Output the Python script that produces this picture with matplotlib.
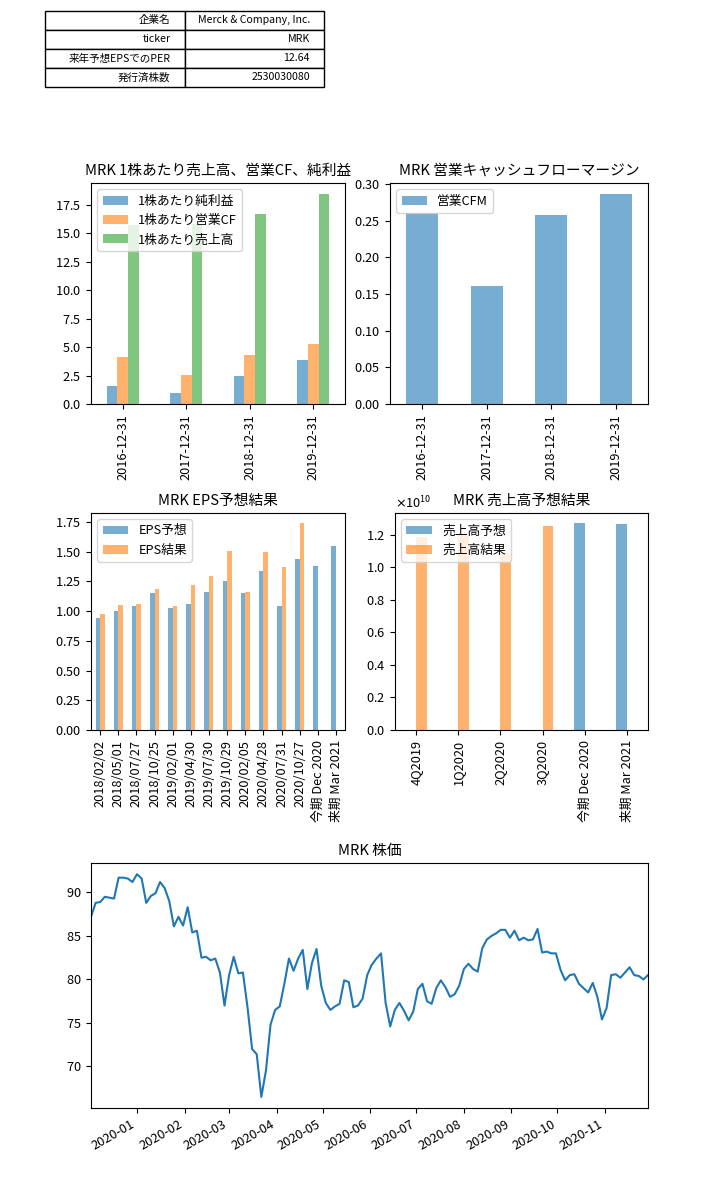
import numpy as np
import pandas as pd
import matplotlib
matplotlib.use('Agg')
import matplotlib.pyplot as plt

plt.rcParams['font.family'] = ['Noto Sans CJK JP', 'DejaVu Sans']
plt.rcParams['font.size'] = 9.2
plt.rcParams['axes.titlesize'] = 10.6
plt.rcParams['axes.formatter.use_mathtext'] = True

ticker = 'MRK'

# summary table
info_keys = ['企業名', 'ticker', '来年予想EPSでのPER', '発行済株数']
info_vals = ['Merck & Company, Inc.', 'MRK', '12.64', '2530030080']

# per share numbers
years = ['2016-12-31', '2017-12-31', '2018-12-31', '2019-12-31']
net_income_ps = [1.55, 0.95, 2.46, 3.89]
op_cf_ps = [4.10, 2.55, 4.32, 5.31]
revenue_ps = [15.73, 15.86, 16.72, 18.51]
cfm = [0.261, 0.161, 0.258, 0.287]

# EPS estimate vs actual
eps_dates = ['2018/02/02', '2018/05/01', '2018/07/27', '2018/10/25',
             '2019/02/01', '2019/04/30', '2019/07/30', '2019/10/29',
             '2020/02/05', '2020/04/28', '2020/07/31', '2020/10/27',
             '今期 Dec 2020', '来期 Mar 2021']
eps_est = [0.94, 1.00, 1.04, 1.15, 1.03, 1.06, 1.16, 1.25,
           1.15, 1.34, 1.04, 1.44, 1.38, 1.55]
eps_act = [0.98, 1.05, 1.06, 1.19, 1.04, 1.22, 1.30, 1.51,
           1.16, 1.50, 1.37, 1.74, np.nan, np.nan]

# revenue estimate vs actual
rev_labels = ['4Q2019', '1Q2020', '2Q2020', '3Q2020', '今期 Dec 2020', '来期 Mar 2021']
rev_est = [np.nan, np.nan, np.nan, np.nan, 1.270e10, 1.264e10]
rev_act = [1.1868e10, 1.2057e10, 1.0872e10, 1.2551e10, np.nan, np.nan]

# stock price (every 3 days)
price_start = '2019-12-02'
price = [87.2, 88.8, 88.9, 89.5, 89.4, 89.3, 91.7, 91.7, 91.6, 91.2,
         92.1, 91.6, 88.8, 89.6, 89.9, 91.2, 90.5, 89.0, 86.1, 87.2,
         86.2, 88.3, 85.4, 85.6, 82.5, 82.6, 82.2, 82.4, 80.8, 77.0,
         80.5, 82.6, 80.7, 80.8, 76.8, 72.0, 71.4, 66.5, 69.5, 74.8,
         76.5, 76.9, 79.5, 82.4, 81.0, 82.4, 83.4, 78.9, 81.9, 83.5,
         79.3, 77.3, 76.5, 76.9, 77.2, 79.9, 79.7, 76.8, 77.0, 77.8,
         80.5, 81.7, 82.4, 83.0, 77.3, 74.6, 76.5, 77.3, 76.4, 75.3,
         76.3, 78.9, 79.5, 77.5, 77.2, 79.0, 79.9, 79.1, 78.0, 78.3,
         79.3, 81.2, 81.8, 81.2, 80.9, 83.6, 84.6, 85.0, 85.3, 85.7,
         85.7, 84.8, 85.6, 84.5, 84.8, 84.5, 84.6, 85.8, 83.1, 83.2,
         83.0, 83.0, 81.1, 79.9, 80.5, 80.6, 79.5, 79.0, 78.5, 79.6,
         78.0, 75.4, 76.7, 80.5, 80.6, 80.2, 80.8, 81.4, 80.5, 80.4,
         80.0, 80.5]

fig = plt.figure(figsize=(7.2, 11.8), dpi=100)

# table
ax0 = fig.add_axes([0.0625, 0.9263, 0.3875, 0.0644])
ax0.axis('off')
tbl = ax0.table(cellText=[[k, v] for k, v in zip(info_keys, info_vals)],
                bbox=[0, 0, 1, 1], cellLoc='right')
tbl.auto_set_font_size(False)
tbl.set_fontsize(7.6)

# per share
ax1 = fig.add_axes([0.1264, 0.6576, 0.3528, 0.1873])
df1 = pd.DataFrame({'1株あたり純利益': net_income_ps,
                    '1株あたり営業CF': op_cf_ps,
                    '1株あたり売上高': revenue_ps}, index=years)
df1.plot.bar(ax=ax1, alpha=0.6)
ax1.set_title(ticker + ' 1株あたり売上高、営業CF、純利益')
ax1.legend(loc='upper left')

# cfm
ax2 = fig.add_axes([0.5417, 0.6576, 0.3583, 0.1873])
df2 = pd.DataFrame({'営業CFM': cfm}, index=years)
df2.plot.bar(ax=ax2, alpha=0.6)
ax2.set_title(ticker + ' 営業キャッシュフローマージン')
ax2.legend(loc='upper left')

# eps
ax3 = fig.add_axes([0.1264, 0.3814, 0.3528, 0.1839])
df3 = pd.DataFrame({'EPS予想': eps_est, 'EPS結果': eps_act}, index=eps_dates)
df3.plot.bar(ax=ax3, alpha=0.6)
ax3.set_title(ticker + ' EPS予想結果')
ax3.legend(loc='upper left')

# revenue
ax4 = fig.add_axes([0.5486, 0.3814, 0.3514, 0.1839])
df4 = pd.DataFrame({'売上高予想': rev_est, '売上高結果': rev_act}, index=rev_labels)
df4.plot.bar(ax=ax4, alpha=0.6)
ax4.set_title(ticker + ' 売上高予想結果')
ax4.legend(loc='upper left')

# price
ax5 = fig.add_axes([0.1264, 0.0610, 0.7736, 0.2076])
dates = pd.date_range(price_start, periods=len(price), freq='3D')
ax5.plot(dates, price)
ax5.set_xlim(dates[0], dates[-1])
ax5.set_title(ticker + ' 株価')
for lbl in ax5.get_xticklabels():
    lbl.set_rotation(30)
    lbl.set_ha('right')

fig.savefig('out.png')
